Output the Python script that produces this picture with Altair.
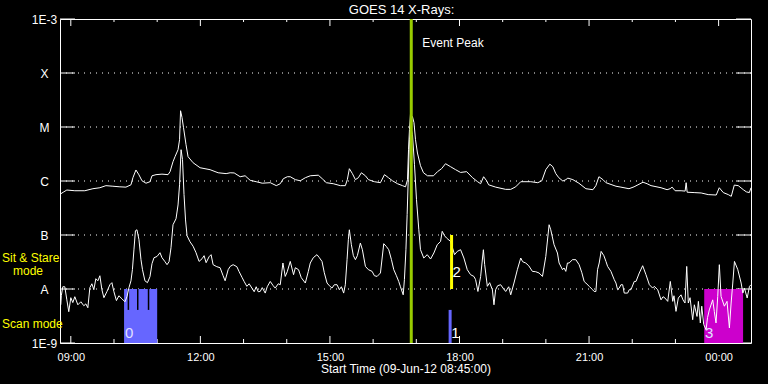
import altair as alt
import pandas as pd

# ---------------- data (minutes after 09-Jun-12 08:45:00, flux W/m^2) ----------------
long_t = [1.1, 5.3, 9.5, 20.6, 34.5, 45.7, 55.4, 63.8, 73.5, 83.2, 91.6, 98.6, 101.3, 105.5, 109.7,
          113.9, 119.5, 125, 127.8, 133.4, 141.7, 150.1, 152.9, 157, 159.8, 164, 166.1, 167.5, 169.5,
          171.6, 175.1, 177.9, 184.9, 194.6, 208.5, 219.7, 230.8, 236.4, 242, 250.3, 257.2, 264.2,
          272.6, 281, 292.1, 300.5, 306, 310.2, 315.8, 319.9, 326.9, 333.8, 340.8, 347.7, 358.9,
          364.4, 370, 379.7, 389.5, 396.4, 399.2, 402, 406.2, 410.4, 414.5, 418.7, 424.3, 428.5,
          436.8, 445.2, 450.8, 456.3, 461.9, 468.9, 475.8, 480, 482.8, 484.2, 485.5, 486.9, 489.7,
          491.8, 493.9, 496.6, 500.8, 505, 510.6, 518.9, 524.5, 530.1, 535.6, 542.6, 549.6, 556.5,
          564.9, 573.2, 580.2, 584.4, 588.5, 592.7, 595.5, 605.3, 619.2, 626.2, 633.1, 640.1, 654,
          663.8, 669.4, 674.9, 680.5, 684.7, 688.8, 693, 698.6, 702.8, 705.5, 712.5, 720.9, 730.6,
          740.4, 744.5, 748.7, 754.3, 758.5, 772.4, 779.3, 790.5, 797.5, 803, 810, 815.6, 821.1,
          835, 843.4, 847.6, 850.4, 854.6, 862.9, 868.5, 869.9, 871.3, 881, 890.8, 900.5, 911.7,
          915.9, 921.5, 928.4, 932.6, 936.8, 942.3, 949.3, 953.5, 957.7, 960]
long_f = [5.8e-7, 6.3e-7, 6.8e-7, 6.6e-7, 6.6e-7, 7.2e-7, 7.5e-7, 8.2e-7, 8.0e-7, 7.8e-7, 7.7e-7,
          8.5e-7, 1.15e-6, 1.6e-6, 1.3e-6, 1.01e-6, 9.1e-7, 9.7e-7, 1.25e-6, 1.31e-6, 1.34e-6,
          1.31e-6, 1.49e-6, 2.28e-6, 2.82e-6, 3.8e-6, 5.8e-6, 2.0e-5, 1.5e-5, 9.7e-6, 4.7e-6,
          2.82e-6, 2.18e-6, 1.76e-6, 1.62e-6, 1.42e-6, 1.37e-6, 1.42e-6, 1.41e-6, 1.2e-6, 1.25e-6,
          1.03e-6, 9.7e-7, 9.1e-7, 9.3e-7, 8.2e-7, 8.9e-7, 1.1e-6, 1.2e-6, 1.2e-6, 1.06e-6,
          1.01e-6, 1.15e-6, 1.25e-6, 1.28e-6, 1.1e-6, 9.3e-7, 8.9e-7, 8.2e-7, 8.2e-7, 1.06e-6,
          1.69e-6, 1.37e-6, 1.06e-6, 1.15e-6, 1.42e-6, 1.25e-6, 1.06e-6, 9.7e-7, 9.3e-7, 1.31e-6,
          1.15e-6, 1.01e-6, 8.9e-7, 8.2e-7, 7.8e-7, 1.06e-6, 3.8e-6, 8.9e-6, 1.7e-5, 1.55e-5,
          1.2e-5, 5.8e-6, 3.3e-6, 1.92e-6, 1.42e-6, 1.25e-6, 1.25e-6, 1.49e-6, 1.69e-6, 2.09e-6,
          1.84e-6, 1.62e-6, 1.44e-6, 1.49e-6, 1.15e-6, 9.7e-7, 8.9e-7, 1.2e-6, 1.01e-6, 8.5e-7,
          7.7e-7, 7.0e-7, 7.0e-7, 7.8e-7, 9.7e-7, 9.7e-7, 9.3e-7, 1.01e-6, 1.62e-6, 2.05e-6,
          1.84e-6, 1.37e-6, 1.15e-6, 1.0e-6, 1.06e-6, 1.13e-6, 1.06e-6, 9.1e-7, 7.2e-7, 6.9e-7,
          8.2e-7, 1.2e-6, 1.06e-6, 9.3e-7, 8.0e-7, 7.7e-7, 7.2e-7, 7.8e-7, 8.5e-7, 9.5e-7, 8.9e-7,
          8.2e-7, 7.5e-7, 6.9e-7, 7.2e-7, 7.7e-7, 6.6e-7, 6.6e-7, 6.5e-7, 9.3e-7, 6.2e-7, 6.1e-7,
          6.0e-7, 5.6e-7, 5.5e-7, 7.5e-7, 6.1e-7, 5.6e-7, 5.2e-7, 8.4e-7, 8.2e-7, 6.9e-7, 6.3e-7,
          6.1e-7, 7.5e-7]

short_t = [1.1, 1.8, 3.9, 6.7, 9.5, 12.2, 15, 17.8, 20.6, 24.8, 29, 33.1, 35.9, 38.7, 41.5, 44.3,
           47, 49.8, 52.6, 55.4, 58.2, 61, 65.1, 69.3, 72.1, 74.9, 78.4, 81.8, 86, 90.2, 93, 95.8,
           98.6, 100.6, 102.7, 104.8, 106.9, 109.7, 112.5, 114.6, 118, 121.5, 125, 127.8, 130.6,
           134.8, 138.9, 141.7, 145.9, 148.7, 151.5, 154.2, 157, 161.2, 164, 166.1, 168.2, 170.2,
           172.3, 174.4, 176.5, 180.6, 184.9, 189, 193.2, 197.4, 200.2, 203, 207.1, 209.9, 212.7,
           217.8, 222.4, 226.6, 229.4, 233.6, 236.4, 240.5, 245.7, 248.9, 253.1, 255.9, 259.6,
           262.8, 266.6, 269.8, 272.6, 275.3, 278.1, 281, 285.1, 287.9, 292.1, 296.2, 299, 303.2,
           306, 309.7, 312.9, 315.7, 319.9, 324.5, 326.9, 331.4, 335.2, 340.8, 344.9, 347.7, 351.9,
           357, 360.3, 364, 367.2, 371, 374.2, 377.9, 381.1, 384.9, 388.1, 390.9, 394.1, 396.4,
           398.8, 400.6, 402, 404.8, 407.6, 410.4, 413.1, 417.3, 420.1, 424.3, 428.5, 433.6, 436.8,
           440.6, 445.2, 449.8, 453.5, 456.7, 460.5, 463.7, 467.4, 470.6, 473, 476.8, 478.5, 480.6,
           482.3, 484.2, 485.5, 487.6, 489.7, 492.5, 495.3, 498.5, 500.8, 505.4, 510.2, 514.8,
           519.4, 524.1, 528.7, 531, 534.2, 537, 542.6, 548.2, 551.9, 556.5, 561.1, 565.8, 570.4,
           575, 577.4, 580.6, 584.4, 588.2, 590, 593.7, 596.9, 600.7, 602.9, 605.2, 608, 612.2,
           616.4, 619.2, 623.4, 626.2, 630.7, 635.4, 640.1, 642.8, 647, 651.2, 656.3, 660.9, 665.5,
           670.3, 674.9, 679.5, 681.8, 686.4, 691.1, 693.4, 698.1, 700.3, 702.7, 705, 707.3, 712,
           716.6, 721.2, 725, 728.2, 730.6, 735.2, 739.9, 742.1, 744.5, 746.8, 749.1, 751.8, 755.6,
           758.5, 760.8, 765.4, 770, 772.4, 774.7, 777, 779.3, 781.7, 783.9, 788.6, 790.8, 793.2,
           797.8, 800.2, 804.8, 809.5, 814.1, 818.8, 823.4, 825.6, 830.4, 835, 837.8, 840.5, 844.3,
           847.9, 851.3, 853, 855.8, 859, 862.8, 865.5, 868.3, 870.7, 872.9, 875.3, 879, 881.3, 885,
           886.9, 889.6, 891.6, 894.3, 897.6, 899.6, 902.1, 906.8, 909, 911.4, 913.8, 916, 918.4,
           923, 926.7, 930, 932.4, 934.7, 937, 941.7, 946.3, 948.7, 950.9, 954.7, 957.9, 960]
short_f = [5.1e-9, 7.5e-9, 1.1e-8, 1.1e-8, 6.3e-9, 3.8e-9, 6.9e-9, 5.6e-9, 7.2e-9, 5.1e-9, 5.8e-9,
           4.9e-9, 5.3e-9, 4.5e-9, 1.06e-8, 1.25e-8, 9.7e-9, 1.55e-8, 1.42e-8, 1.76e-8, 9.7e-9,
           6.9e-9, 8.9e-9, 1.2e-8, 1.31e-8, 8.9e-9, 6.1e-9, 7.5e-9, 6.6e-9, 5.8e-9, 7.2e-9, 1.06e-8,
           1.42e-8, 2.28e-8, 5.3e-8, 1.2e-7, 1.25e-7, 8.2e-8, 3.5e-8, 2.28e-8, 1.42e-8, 1.31e-8,
           1.69e-8, 2.94e-8, 3.8e-8, 4.0e-8, 4.7e-8, 3.8e-8, 3.2e-8, 2.82e-8, 3.2e-8, 5.8e-8,
           1.55e-7, 2.0e-7, 3.6e-7, 8.5e-7, 3.8e-6, 2.5e-6, 5.6e-7, 1.9e-7, 9.7e-8, 7.5e-8, 6.2e-8,
           4.7e-8, 3.24e-8, 3.64e-8, 4.14e-8, 3.07e-8, 3.96e-8, 4.32e-8, 2.82e-8, 2.59e-8, 2.48e-8,
           1.76e-8, 1.42e-8, 2.28e-8, 2.62e-8, 2.82e-8, 2.59e-8, 2.09e-8, 1.62e-8, 1.37e-8, 1.12e-8,
           1.25e-8, 1.04e-8, 8.9e-9, 1.1e-8, 8.9e-9, 9.0e-9, 1.06e-8, 8.4e-9, 1.1e-8, 1.38e-8,
           1.15e-8, 1.04e-8, 1.25e-8, 1.2e-8, 3.03e-8, 1.71e-8, 2.09e-8, 3.24e-8, 1.84e-8, 2.48e-8,
           2.28e-8, 1.62e-8, 1.29e-8, 2.09e-8, 3.03e-8, 3.8e-8, 4.32e-8, 3.8e-8, 3.24e-8, 2.0e-8,
           1.29e-8, 1.15e-8, 1.04e-8, 1.2e-8, 1.2e-8, 9.7e-9, 1.1e-8, 8.4e-9, 1.2e-8, 3.49e-8,
           8.2e-8, 1.25e-7, 6.6e-8, 4.14e-8, 3.49e-8, 4.14e-8, 7.1e-8, 5.34e-8, 2.62e-8, 2.28e-8,
           2.12e-8, 1.76e-8, 1.71e-8, 1.98e-8, 6.9e-8, 6.1e-8, 5.34e-8, 3.49e-8, 2.28e-8, 1.76e-8,
           1.38e-8, 1.1e-8, 7.8e-9, 1.49e-8, 5.34e-8, 2.4e-7, 1.6e-6, 5.8e-6, 9.7e-6, 7.2e-6,
           2.0e-6, 4.5e-7, 1.25e-7, 5.34e-8, 3.75e-8, 4.32e-8, 3.59e-8, 4.64e-8, 6.6e-8, 7.6e-8,
           1.17e-7, 9.7e-8, 8.8e-8, 7.6e-8, 4.32e-8, 4.97e-8, 5.34e-8, 3.75e-8, 2.28e-8, 1.84e-8,
           1.71e-8, 1.49e-8, 9.0e-9, 1.71e-8, 5.34e-8, 2.82e-8, 1.12e-8, 1.31e-8, 9.7e-9, 5.1e-9,
           9.7e-9, 1.15e-8, 1.2e-8, 1.0e-8, 9.0e-9, 1.1e-8, 7.8e-9, 1.29e-8, 2.28e-8, 3.75e-8,
           3.2e-8, 3.03e-8, 2.7e-8, 2.12e-8, 2.09e-8, 1.98e-8, 1.71e-8, 4.0e-8, 1.55e-7, 1.25e-7,
           6.6e-8, 4.64e-8, 3.03e-8, 2.28e-8, 2.45e-8, 2.12e-8, 3.03e-8, 3.03e-8, 3.49e-8, 3.49e-8,
           2.82e-8, 2.0e-8, 1.38e-8, 1.29e-8, 1.12e-8, 9.7e-9, 9.0e-9, 9.0e-9, 2.28e-8, 3.03e-8,
           4.97e-8, 4.14e-8, 3.24e-8, 2.62e-8, 2.12e-8, 1.49e-8, 1.29e-8, 9.7e-9, 1.04e-8, 1.2e-8,
           1.2e-8, 8.4e-9, 8.4e-9, 9.7e-9, 9.7e-9, 1.38e-8, 1.38e-8, 1.98e-8, 2.7e-8, 1.84e-8,
           1.2e-8, 1.04e-8, 1.12e-8, 9.7e-9, 6.3e-9, 7.2e-9, 6.8e-9, 5.9e-9, 1.38e-8, 5.9e-9,
           7.5e-9, 3.85e-9, 6.8e-9, 7.8e-9, 6.3e-9, 5.5e-9, 2.62e-8, 5.5e-9, 6.9e-9, 2.7e-9, 5.1e-9,
           3.1e-9, 5.9e-9, 2.35e-9, 4.8e-9, 2.2e-9, 1.76e-9, 2.95e-9, 4.1e-9, 6.3e-9, 3.85e-9,
           2.35e-9, 7.3e-9, 2.82e-8, 7.3e-9, 4.8e-9, 5.9e-9, 1.9e-9, 5.5e-9, 1.29e-8, 3.24e-8,
           2.28e-8, 1.29e-8, 8.4e-9, 1.04e-8, 6.8e-9, 1.12e-8, 1.2e-8]

# flux levels and their class letters
level_flux = [1e-9, 1e-8, 1e-7, 1e-6, 1e-5, 1e-4, 1e-3]
level_names = ["1E-9", "A", "B", "C", "M", "X", "1E-3"]

# time axis labels (clock) and hourly minor ticks
tick_labels = ["09:00", "12:00", "15:00", "18:00", "21:00", "00:00"]
hour_ticks = ["09:00", "10:00", "11:00", "12:00", "13:00", "14:00", "15:00", "16:00", "17:00",
              "18:00", "19:00", "20:00", "21:00", "22:00", "23:00", "00:00"]
START_H = 8.75          # 08:45
SPAN_H = 16.0

# events (minutes after start)
event_peak_t = 488
scan_start = [89, 895]
scan_end = [135, 949]
scan_label = ["0", "3"]
scan_color = ["#6666ff", "#cc00cc"]
pointing_marks_t = [95, 108, 123]
blue_mark_t = 542
blue_mark_label = "1"
yellow_mark_t = 544
yellow_mark_label = "2"

W, H = 691, 324
FONT = "Liberation Sans"


def clock_to_h(s):
    hh, mm = s.split(":")
    return (int(hh) + int(mm) / 60 - START_H) % 24


tick_pos = [clock_to_h(s) for s in tick_labels]
minor_pos = [clock_to_h(s) for s in hour_ticks]

x_expr = " : ".join(f"abs(datum.value - {p}) < 0.01 ? '{l}'" for p, l in zip(tick_pos, tick_labels)) + " : ''"
y_expr = " : ".join(f"abs(log(datum.value)/LN10 - ({i - 9})) < 0.01 ? '{l}'"
                    for i, l in enumerate(level_names)) + " : ''"

xscale = alt.Scale(domain=[0, SPAN_H], nice=False, zero=False)
yscale = alt.Scale(type="log", domain=[1e-9, 1e-3], nice=False)
xaxis = alt.Axis(values=tick_pos, labelExpr=x_expr, title="Start Time (09-Jun-12 08:45:00)",
                 domain=False, ticks=False, tickSize=0, grid=False, labelColor="white",
                 labelFont=FONT, labelFontSize=11, labelPadding=8, labelFlush=False,
                 titleColor="white", titleFont=FONT, titleFontSize=12, titleFontWeight="normal",
                 titlePadding=1)
yaxis = alt.Axis(values=level_flux, labelExpr=y_expr, title=None, domain=False, ticks=False,
                 tickSize=0, grid=False, labelColor="white", labelFont=FONT, labelFontSize=12,
                 labelPadding=16, labelAlign="center", labelBaseline="middle")


def X(f="h"):
    return alt.X(f"{f}:Q", scale=xscale, axis=xaxis)


def Y(f="flux"):
    return alt.Y(f"{f}:Q", scale=yscale, axis=yaxis)


# ---------------- tables ----------------
curves = pd.concat([
    pd.DataFrame({"h": [t / 60 for t in long_t], "flux": long_f, "ch": "long"}),
    pd.DataFrame({"h": [t / 60 for t in short_t], "flux": short_f, "ch": "short"}),
])
levels = pd.DataFrame({"flux": level_flux, "name": level_names})
grid_levels = levels[(levels.flux > 2e-9) & (levels.flux < 5e-4)]
ticks_df = pd.DataFrame({"h": minor_pos,
                         "major": [any(abs(p - q) < 1e-6 for q in tick_pos) for p in minor_pos]})
scans = pd.DataFrame({"h": [t / 60 for t in scan_start], "h2": [t / 60 for t in scan_end],
                      "flux": 1e-8, "flux2": 1e-9, "label": scan_label, "color": scan_color,
                      "ly": 1.5e-9})
point_df = pd.DataFrame({"h": [t / 60 for t in pointing_marks_t], "flux": 1e-8, "flux2": 4.1e-9})

# ---------------- layers ----------------
grid = alt.Chart(grid_levels).mark_rule(color="white", strokeDash=[1, 5], strokeWidth=1).encode(
    y=Y(), x=alt.value(0), x2=alt.value(W))
ytick_l = alt.Chart(levels).mark_rule(color="white").encode(y=Y(), x=alt.value(0), x2=alt.value(15))
ytick_r = alt.Chart(levels).mark_rule(color="white").encode(y=Y(), x=alt.value(W - 15), x2=alt.value(W))

maj = ticks_df[ticks_df.major]
mnr = ticks_df[~ticks_df.major]
xt = [
    alt.Chart(maj).mark_rule(color="white").encode(x=X(), y=alt.value(0), y2=alt.value(7)),
    alt.Chart(mnr).mark_rule(color="white").encode(x=X(), y=alt.value(0), y2=alt.value(3)),
    alt.Chart(maj).mark_rule(color="white").encode(x=X(), y=alt.value(H - 7), y2=alt.value(H)),
    alt.Chart(mnr).mark_rule(color="white").encode(x=X(), y=alt.value(H - 4), y2=alt.value(H)),
]

scan_rects = alt.Chart(scans).mark_rect().encode(
    x=X(), x2="h2:Q", y=Y(), y2="flux2:Q", color=alt.Color("color:N", scale=None))
point_lines = alt.Chart(point_df).mark_rule(color="black", strokeWidth=1.5).encode(
    x=X(), y=Y(), y2="flux2:Q")

lines = alt.Chart(curves).mark_line(color="white", strokeWidth=1).encode(
    x=X(), y=Y(), detail="ch:N", order="h:Q")

blue_line = alt.Chart(pd.DataFrame({"h": [blue_mark_t / 60], "flux": [4.1e-9], "flux2": [1e-9]})).mark_rule(
    color="#6666ff", strokeWidth=3).encode(x=X(), y=Y(), y2="flux2:Q")
yellow_line = alt.Chart(pd.DataFrame({"h": [yellow_mark_t / 60], "flux": [1e-7], "flux2": [1e-8]})).mark_rule(
    color="#ffff00", strokeWidth=3).encode(x=X(), y=Y(), y2="flux2:Q")
peak_line = alt.Chart(pd.DataFrame({"h": [event_peak_t / 60], "flux": [1e-3], "flux2": [1e-9]})).mark_rule(
    color="#99cc00", strokeWidth=3).encode(x=X(), y=Y(), y2="flux2:Q")

scan_text = alt.Chart(scans).mark_text(color="#e0e0ff", font=FONT, fontSize=15, align="center",
                                       baseline="middle", dx=5).encode(x=X(), y=Y("ly"), text="label:N")
num_text = alt.Chart(pd.DataFrame({"h": [blue_mark_t / 60, yellow_mark_t / 60], "flux": [1.5e-9, 2.1e-8],
                                   "label": [blue_mark_label, yellow_mark_label]})).mark_text(
    color="white", font=FONT, fontSize=15, align="left", baseline="middle", dx=1).encode(
    x=X(), y=Y(), text="label:N")
peak_text = alt.Chart(pd.DataFrame({"h": [event_peak_t / 60], "label": ["Event Peak"]})).mark_text(
    color="white", font=FONT, fontSize=12, align="left", baseline="middle", dx=11).encode(
    x=X(), y=alt.value(24), text="label:N")

title = alt.Chart(pd.DataFrame({"t": ["GOES 14 X-Rays:"]})).mark_text(
    color="white", font=FONT, fontSize=13, align="center", baseline="middle").encode(
    text="t:N", x=alt.value(341.5), y=alt.value(-9))
side = alt.Chart(pd.DataFrame({"t": ["Sit & Stare", "mode", "Scan mode"],
                               "px": [-58, -47, -58], "py": [238.5, 252, 304.5]})).mark_text(
    color="#ffff00", font=FONT, fontSize=12, align="left", baseline="middle").encode(
    text="t:N", x=alt.X("px:Q", scale=None, axis=None), y=alt.Y("py:Q", scale=None, axis=None))

chart = alt.layer(
    grid, ytick_l, ytick_r, *xt, scan_rects, point_lines, lines, blue_line, yellow_line, peak_line,
    scan_text, num_text, peak_text, title, side
).properties(
    width=W, height=H,
    autosize=alt.AutoSizeParams(type="none"),
    padding={"left": 60, "top": 19, "right": 17, "bottom": 41},
    background="black",
).configure_view(stroke="white", strokeWidth=1)

chart.save("out.html", embed_options={"renderer": "svg", "actions": False})
